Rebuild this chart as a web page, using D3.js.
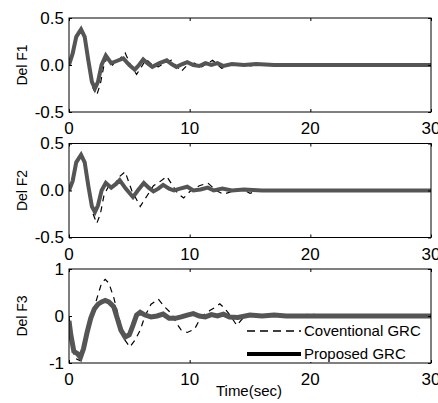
<!DOCTYPE html>
<meta charset="utf-8">
<style>
  body { margin: 0; background: #fff; }
  text { font-family: 'Liberation Sans', Arial, sans-serif; fill: #000; }
</style>
<body>
<script src="https://cdn.jsdelivr.net/npm/d3@7"></script>
<script>
  var width = 438, height = 403;

  // time axis
  var xTicks = [0, 10, 20, 30];

  // Del F1
  var f1PropT = [0, 0.3, 0.6, 1.0, 1.3, 1.6, 1.9, 2.15, 2.4, 2.7, 3.05, 3.5, 3.9, 4.5, 5.0, 5.45, 5.8, 6.15, 6.5, 6.9, 7.5, 8.1, 8.5, 8.9, 9.4, 9.8, 10.3, 10.8, 11.3, 11.8, 12.3, 12.8, 13.5, 14.5, 15.5, 17, 20, 30];
  var f1PropV = [0, 0.12, 0.3, 0.38, 0.3, 0.05, -0.18, -0.25, -0.18, 0.0, 0.1, 0.02, 0.04, 0.07, 0.0, -0.05, 0.0, 0.06, 0.02, -0.02, 0.02, 0.05, 0.01, -0.02, 0.01, 0.03, 0.0, -0.01, 0.02, 0.0, 0.02, -0.01, 0.01, 0.0, 0.01, 0.0, 0.0, 0.0];
  var f1ConvT = [0, 0.3, 0.6, 1.0, 1.35, 1.7, 2.0, 2.3, 2.6, 2.9, 3.2, 3.6, 4.1, 4.65, 5.1, 5.6, 6.0, 6.4, 6.9, 7.4, 8.0, 8.5, 8.9, 9.3, 9.8, 10.4, 11.0, 11.9, 12.65, 13.3, 14, 15, 16, 17, 18, 20, 30];
  var f1ConvV = [0, 0.12, 0.32, 0.39, 0.3, 0.0, -0.25, -0.32, -0.2, 0.0, 0.09, 0.0, 0.05, 0.13, 0.0, -0.1, -0.02, 0.06, 0.0, -0.02, 0.03, 0.05, -0.01, -0.07, 0.0, 0.02, -0.02, 0.05, -0.035, 0.0, 0.015, -0.01, 0.01, 0.0, 0.01, 0.0, 0.0];

  // Del F2
  var f2PropT = [0, 0.3, 0.6, 1.0, 1.3, 1.6, 1.9, 2.15, 2.4, 2.7, 3.05, 3.5, 3.9, 4.2, 4.7, 5.3, 5.7, 6.2, 6.6, 7.0, 7.4, 7.8, 8.3, 8.7, 9.2, 9.8, 10.3, 10.9, 11.5, 12, 12.7, 13.5, 14.5, 16, 30];
  var f2PropV = [0, 0.1, 0.3, 0.38, 0.3, 0.05, -0.17, -0.23, -0.16, 0.0, 0.08, 0.03, 0.07, 0.11, 0.02, -0.07, 0.0, 0.08, 0.03, -0.01, 0.02, 0.06, 0.02, 0.0, 0.02, 0.04, 0.0, 0.01, 0.03, 0.0, 0.02, 0.0, 0.01, 0.0, 0.0];
  var f2ConvT = [0, 0.3, 0.6, 1.0, 1.35, 1.7, 2.0, 2.3, 2.6, 2.9, 3.3, 3.7, 4.2, 4.65, 5.2, 5.9, 6.5, 7.0, 7.6, 8.1, 8.6, 9.0, 9.5, 10.1, 10.8, 11.5, 12.2, 12.8, 13.5, 14.3, 15, 16, 17, 18, 19.5, 30];
  var f2ConvV = [0, 0.1, 0.3, 0.38, 0.3, 0.0, -0.25, -0.35, -0.25, -0.05, 0.05, 0.05, 0.15, 0.2, 0.0, -0.17, -0.05, 0.05, 0.1, 0.15, 0.05, -0.03, -0.08, 0.0, 0.05, 0.08, 0.0, -0.04, -0.01, 0.02, -0.03, 0.01, 0.0, 0.01, 0.0, 0.0];

  // Del F3
  var f3PropT = [0, 0.15, 0.4, 0.7, 0.95, 1.2, 1.5, 1.8, 2.1, 2.4, 2.7, 3.0, 3.3, 3.7, 4.0, 4.3, 4.65, 5.0, 5.3, 5.6, 5.9, 6.3, 6.8, 7.3, 7.8, 8.3, 8.8, 9.3, 9.8, 10.3, 10.8, 11.3, 11.8, 12.3, 12.8, 13.3, 14, 15, 16, 17, 18, 30];
  var f3PropV = [-0.1, -0.4, -0.75, -0.8, -0.88, -0.7, -0.35, -0.05, 0.15, 0.25, 0.3, 0.33, 0.3, 0.2, -0.05, -0.3, -0.45, -0.4, -0.2, 0.02, 0.08, 0.02, -0.02, 0.0, 0.04, -0.05, -0.05, -0.02, 0.02, 0.05, 0.0, -0.02, 0.03, 0.0, 0.04, -0.02, -0.03, 0.02, 0.0, 0.02, 0.0, 0.0];
  var f3ConvT = [0, 0.2, 0.5, 0.9, 1.2, 1.6, 2.0, 2.4, 2.7, 3.0, 3.3, 3.7, 4.1, 4.6, 5.05, 5.5, 5.9, 6.3, 6.8, 7.4, 7.9, 8.5, 8.9, 9.3, 9.8, 10.4, 11.0, 11.7, 12.2, 12.5, 12.9, 13.4, 13.9, 14.4, 15, 16, 17, 18, 19, 20, 21, 22, 23, 24.4, 25, 30];
  var f3ConvV = [0, -0.6, -0.9, -0.95, -0.7, -0.3, 0.1, 0.45, 0.7, 0.78, 0.7, 0.4, 0.0, -0.5, -0.66, -0.5, -0.3, 0.0, 0.25, 0.36, 0.2, 0.05, -0.15, -0.3, -0.35, -0.28, 0.0, 0.12, 0.2, 0.26, 0.16, 0.0, -0.2, -0.05, 0.02, 0.03, 0.0, 0.03, 0.01, 0.04, 0.02, 0.03, 0.02, 0.03, 0.0, 0.0];

  // plain hyphen minus, like the original figure
  var fmtHalf = function(d) { return d3.format(".1f")(d).replace("\u2212", "-"); };
  var fmtInt = function(d) { return String(d); };

  var panels = [
    { label: "Del F1", yMin: -0.5, yMax: 0.5, yTicks: [-0.5, 0, 0.5], fmt: fmtHalf, top: 18, pt: f1PropT, pv: f1PropV, ct: f1ConvT, cv: f1ConvV, pw: 4 },
    { label: "Del F2", yMin: -0.5, yMax: 0.5, yTicks: [-0.5, 0, 0.5], fmt: fmtHalf, top: 143.5, pt: f2PropT, pv: f2PropV, ct: f2ConvT, cv: f2ConvV, pw: 4 },
    { label: "Del F3", yMin: -1, yMax: 1, yTicks: [-1, 0, 1], fmt: fmtInt, top: 269, pt: f3PropT, pv: f3PropV, ct: f3ConvT, cv: f3ConvV, pw: 5 }
  ];
  var plotH = 94;

  var svg = d3.select("body").append("svg")
    .attr("width", width)
    .attr("height", height);

  var x = d3.scaleLinear().domain([0, 30]).range([69, 431]);

  panels.forEach(function(p, i) {
    var y = d3.scaleLinear().domain([p.yMin, p.yMax]).range([p.top + plotH, p.top]);
    var cid = "clip" + i;
    svg.append("clipPath").attr("id", cid)
      .append("rect").attr("x", 69).attr("y", p.top).attr("width", 362).attr("height", plotH);

    var g = svg.append("g").attr("clip-path", "url(#" + cid + ")");

    var conv = d3.line().x(function(d, j) { return x(p.ct[j]); }).y(function(d) { return y(d); });
    var prop = d3.line().x(function(d, j) { return x(p.pt[j]); }).y(function(d) { return y(d); });

    g.append("path")
      .attr("d", conv(p.cv))
      .attr("fill", "none")
      .attr("stroke", "#000")
      .attr("stroke-width", 1.2)
      .attr("stroke-dasharray", "6,5");

    g.append("path")
      .attr("d", prop(p.pv))
      .attr("fill", "none")
      .attr("stroke", "#555")
      .attr("stroke-width", p.pw)
      .attr("stroke-linejoin", "miter");

    // frame
    svg.append("rect")
      .attr("x", 69).attr("y", p.top)
      .attr("width", 362).attr("height", plotH)
      .attr("fill", "none").attr("stroke", "#000").attr("stroke-width", 1);

    // inward ticks on all sides
    var xb = d3.axisBottom(x).tickValues(xTicks).tickSize(-3).tickFormat("");
    var xt = d3.axisTop(x).tickValues(xTicks).tickSize(-3).tickFormat("");
    var yl = d3.axisLeft(y).tickValues(p.yTicks).tickSize(-3).tickFormat("");
    var yr = d3.axisRight(y).tickValues(p.yTicks).tickSize(-3).tickFormat("");
    [[xb, "translate(0," + (p.top + plotH) + ")"], [xt, "translate(0," + p.top + ")"],
     [yl, "translate(69,0)"], [yr, "translate(431,0)"]].forEach(function(a) {
      var ag = svg.append("g").attr("transform", a[1]).call(a[0]);
      ag.select(".domain").remove();
      ag.selectAll("line").attr("stroke", "#000");
    });

    // tick labels
    svg.append("g").selectAll("text").data(xTicks).enter().append("text")
      .attr("x", function(d) { return x(d); })
      .attr("y", p.top + plotH + 22)
      .attr("text-anchor", "middle")
      .attr("font-size", 17)
      .text(function(d) { return d; });

    svg.append("g").selectAll("text").data(p.yTicks).enter().append("text")
      .attr("x", 64)
      .attr("y", function(d) { return y(d); })
      .attr("dy", "0.35em")
      .attr("text-anchor", "end")
      .attr("font-size", 17)
      .text(function(d) { return p.fmt(d); });

    svg.append("text")
      .attr("transform", "translate(27," + (p.top + plotH / 2) + ") rotate(-90)")
      .attr("text-anchor", "middle")
      .attr("font-size", 14)
      .text(p.label);
  });

  svg.append("text")
    .attr("x", 249).attr("y", 396)
    .attr("text-anchor", "middle")
    .attr("font-size", 15)
    .text("Time(sec)");

  // legend
  var legend = svg.append("g");
  legend.append("rect")
    .attr("x", 243).attr("y", 319).attr("width", 187).attr("height", 43)
    .attr("fill", "#fff");
  var items = [
    { name: "Coventional GRC", dash: "8,5", w: 1.5, y: 331 },
    { name: "Proposed GRC", dash: null, w: 4, y: 354 }
  ];
  items.forEach(function(it) {
    legend.append("line")
      .attr("x1", 247).attr("x2", 301).attr("y1", it.y).attr("y2", it.y)
      .attr("stroke", "#000").attr("stroke-width", it.w)
      .attr("stroke-dasharray", it.dash);
    legend.append("text")
      .attr("x", 304).attr("y", it.y).attr("dy", "0.35em")
      .attr("font-size", 15)
      .text(it.name);
  });
</script>
</body>
